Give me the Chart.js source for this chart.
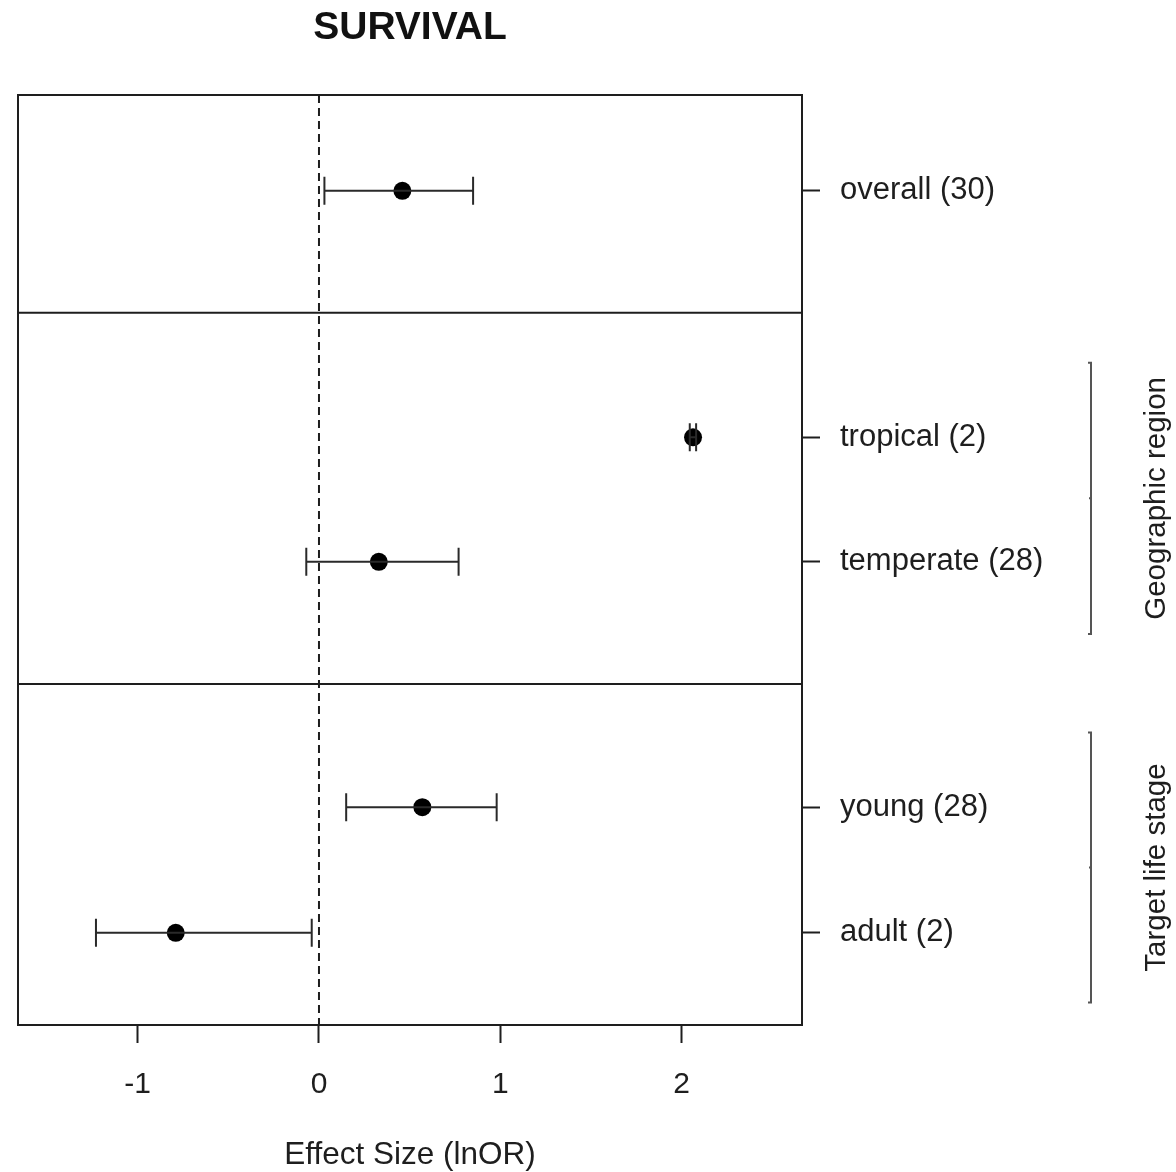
<!DOCTYPE html>
<html>
<head>
<meta charset="utf-8">
<script src="https://cdn.jsdelivr.net/npm/chart.js@4"></script>
<style>
  body { margin: 0; background: #fff; }
  canvas { display: block; }
</style>
</head>
<body>
<canvas id="forest" width="1176" height="1172"></canvas>
<script>
const FONT = "'Liberation Sans', Arial, Helvetica, sans-serif";
const INK = "#1e1e1e";

// rows of the forest plot (y in row units, top = 0)
const rowLabels = ["overall (30)", "tropical (2)", "temperate (28)", "young (28)", "adult (2)"];
const rowPos = [0.77, 2.75, 3.75, 5.72, 6.73];
const estimates = [0.46, 2.063, 0.33, 0.57, -0.79];
const ciLow = [0.03, 2.045, -0.07, 0.15, -1.23];
const ciHigh = [0.85, 2.08, 0.77, 0.98, -0.04];

// panel separators and moderator groups
const separators = [1.75, 4.73];
const groupNames = ["Geographic region", "Target life stage"];
const groupStart = [2.15, 5.12];
const groupEnd = [4.33, 7.29];

const xTicks = [-1, 0, 1, 2];
const X_MIN = -1.66;
const X_MAX = 2.664;
const Y_MAX = 7.47;

const points = estimates.map((v, i) => ({ x: v, y: rowPos[i] }));

const lineDatasets = separators.map((s) => ({
  type: "line",
  data: [{ x: X_MIN, y: s }, { x: X_MAX, y: s }],
  borderColor: INK,
  borderWidth: 2,
  pointRadius: 0,
}));

// Error bars and frame drawn through the scales
const forestPlugin = {
  id: "forest",
  afterDatasetsDraw(chart) {
    const { ctx, scales } = chart;
    const x = scales.x;
    const y = scales.y;

    ctx.save();
    ctx.strokeStyle = "#2a2a2a";
    ctx.lineWidth = 2;
    for (let i = 0; i < rowPos.length; i++) {
      const py = y.getPixelForValue(rowPos[i]);
      const x1 = x.getPixelForValue(ciLow[i]);
      const x2 = x.getPixelForValue(ciHigh[i]);
      ctx.beginPath();
      ctx.moveTo(x1, py);
      ctx.lineTo(x2, py);
      ctx.moveTo(x1, py - 14);
      ctx.lineTo(x1, py + 14);
      ctx.moveTo(x2, py - 14);
      ctx.lineTo(x2, py + 14);
      ctx.stroke();
    }
    ctx.restore();
  },
  afterDraw(chart) {
    const { ctx, chartArea, scales } = chart;
    const y = scales.y;

    ctx.save();
    // box around the plot
    ctx.strokeStyle = INK;
    ctx.lineWidth = 2;
    ctx.strokeRect(chartArea.left, chartArea.top, chartArea.right - chartArea.left, chartArea.bottom - chartArea.top);

    // title over the plot area
    ctx.fillStyle = "#111";
    ctx.font = `bold 39px ${FONT}`;
    ctx.textAlign = "center";
    ctx.textBaseline = "middle";
    ctx.fillText("SURVIVAL", (chartArea.left + chartArea.right) / 2, 28);

    // group brackets with rotated labels
    const bx = 1091;
    ctx.strokeStyle = "#555";
    ctx.lineWidth = 2;
    ctx.font = `29.5px ${FONT}`;
    ctx.fillStyle = INK;
    for (let g = 0; g < groupNames.length; g++) {
      const y1 = y.getPixelForValue(groupStart[g]);
      const y2 = y.getPixelForValue(groupEnd[g]);
      const ym = (y1 + y2) / 2;
      ctx.beginPath();
      ctx.moveTo(bx - 3, y1);
      ctx.lineTo(bx, y1);
      ctx.lineTo(bx, y2);
      ctx.lineTo(bx - 3, y2);
      ctx.moveTo(bx, ym);
      ctx.lineTo(bx - 2, ym);
      ctx.stroke();

      ctx.save();
      ctx.translate(1157, ym);
      ctx.rotate(-Math.PI / 2);
      ctx.textAlign = "center";
      ctx.textBaseline = "middle";
      ctx.fillText(groupNames[g], 0, 0);
      ctx.restore();
    }
    ctx.restore();
  },
};

new Chart(document.getElementById("forest"), {
  type: "scatter",
  data: {
    datasets: [
      {
        data: points,
        pointRadius: 9,
        pointHoverRadius: 9,
        backgroundColor: "#000",
        borderColor: "#000",
        borderWidth: 0,
      },
      ...lineDatasets,
      {
        type: "line",
        data: [{ x: 0, y: 0 }, { x: 0, y: Y_MAX }],
        borderColor: INK,
        borderWidth: 2,
        borderDash: [8, 5],
        pointRadius: 0,
      },
    ],
  },
  options: {
    responsive: false,
    animation: false,
    layout: {
      padding: { top: 95, left: 18, right: 0, bottom: 0 },
    },
    plugins: {
      legend: { display: false },
      tooltip: { enabled: false },
    },
    scales: {
      x: {
        type: "linear",
        position: "bottom",
        min: X_MIN,
        max: X_MAX,
        afterBuildTicks: (axis) => {
          axis.ticks = xTicks.map((v) => ({ value: v }));
        },
        afterFit: (axis) => {
          axis.height = 147;
        },
        border: { display: true, color: INK, width: 2 },
        grid: {
          drawOnChartArea: false,
          drawTicks: true,
          tickLength: 18,
          tickWidth: 2,
          tickColor: INK,
        },
        ticks: {
          color: INK,
          padding: 24,
          maxRotation: 0,
          font: { family: FONT, size: 30 },
        },
        title: {
          display: true,
          text: "Effect Size (lnOR)",
          color: INK,
          font: { family: FONT, size: 31.5 },
          padding: { top: 0, bottom: -2 },
        },
      },
      y: {
        type: "linear",
        position: "right",
        reverse: true,
        min: 0,
        max: Y_MAX,
        afterBuildTicks: (axis) => {
          axis.ticks = rowPos.map((v) => ({ value: v }));
        },
        afterFit: (axis) => {
          axis.width = 374;
        },
        border: { display: true, color: INK, width: 2 },
        grid: {
          drawOnChartArea: false,
          drawTicks: true,
          tickLength: 18,
          tickWidth: 2,
          tickColor: INK,
        },
        ticks: {
          color: INK,
          padding: 20,
          font: { family: FONT, size: 31 },
          callback: (value) => {
            const i = rowPos.indexOf(value);
            return i >= 0 ? rowLabels[i] : "";
          },
        },
      },
    },
  },
  plugins: [forestPlugin],
});
</script>
</body>
</html>
